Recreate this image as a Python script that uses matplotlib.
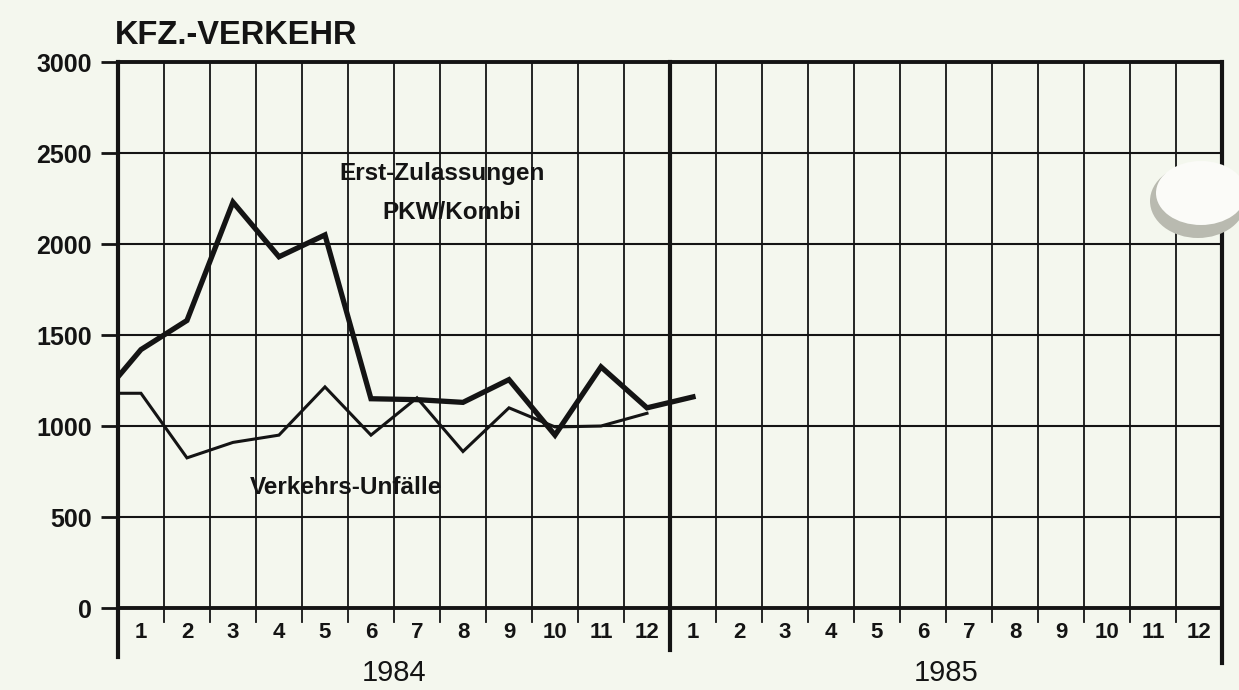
import matplotlib
matplotlib.use('Agg')
import matplotlib.pyplot as plt
from matplotlib.patches import Ellipse

plt.rcParams['font.family'] = ['Liberation Sans', 'DejaVu Sans']

# month positions (column index, 0 = left axis) and values
pkw_x = [0, 0.5, 1.5, 2.5, 3.5, 4.5, 5.5, 6.5, 7.5, 8.5, 9.5, 10.5, 11.5, 12.5]
pkw = [1270, 1420, 1580, 2230, 1930, 2050, 1150, 1145, 1130, 1255, 950, 1325, 1100, 1160]
unf_x = [0, 0.5, 1.5, 2.5, 3.5, 4.5, 5.5, 6.5, 7.5, 8.5, 9.5, 10.5, 11.5]
unf = [1180, 1180, 825, 910, 950, 1215, 950, 1155, 860, 1100, 995, 1000, 1070]

month_labels = [str(m) for m in range(1, 13)] * 2
years = ['1984', '1985']
yticks = [0, 500, 1000, 1500, 2000, 2500, 3000]

bg = '#f4f7ee'
ink = '#141414'
u = 3000 / 546.0  # data units per pixel (vertical)

fig = plt.figure(figsize=(12.39, 6.9), dpi=100, facecolor=bg)
ax = fig.add_axes([0.0952, 0.1188, 0.8911, 0.7913], facecolor=bg)
ax.set_xlim(0, 24)
ax.set_ylim(0, 3000)

# horizontal grid
for y in yticks[1:-1]:
    ax.axhline(y, color=ink, lw=1.5, zorder=1)
# vertical month lines, extending a little below the axis
for i in range(1, 24):
    lw, ext = (3.0, 42) if i == 12 else (1.3, 14)
    ax.plot([i, i], [-ext * u, 3000], color=ink, lw=lw, clip_on=False, zorder=1)
# frame
ax.plot([0, 0], [-49 * u, 3000], color=ink, lw=3.0, clip_on=False, zorder=3)
ax.plot([24, 24], [-55 * u, 3000], color=ink, lw=3.0, clip_on=False, zorder=3)
ax.plot([0, 24], [3000, 3000], color=ink, lw=2.8, clip_on=False, zorder=3)
ax.plot([0, 24], [0, 0], color=ink, lw=2.8, clip_on=False, zorder=3)
for s in ax.spines.values():
    s.set_visible(False)

ax.plot(pkw_x, pkw, color=ink, lw=3.8, solid_joinstyle='miter', zorder=4)
ax.plot(unf_x, unf, color=ink, lw=2.2, solid_joinstyle='miter', zorder=4)

ax.set_yticks(yticks)
ax.set_yticklabels([str(v) for v in yticks], fontsize=18, fontweight='bold', color=ink)
ax.tick_params(axis='y', length=12, width=2, color=ink, pad=7)
ax.set_xticks([i + 0.5 for i in range(24)])
ax.set_xticklabels(month_labels, fontsize=16, fontweight='bold', color=ink)
ax.tick_params(axis='x', length=0, pad=10)

for k, yr in enumerate(years):
    ax.text(6 + 12 * k, -65 * u, yr, ha='center', va='center', fontsize=21, color=ink)

ax.text(7.05, 2385, 'Erst-Zulassungen', ha='center', va='center', fontsize=17.5,
        fontweight='bold', color=ink)
ax.text(7.25, 2175, 'PKW/Kombi', ha='center', va='center', fontsize=17.5,
        fontweight='bold', color=ink)
ax.text(4.95, 660, 'Verkehrs-Unfälle', ha='center', va='center', fontsize=17.5,
        fontweight='bold', color=ink)

fig.text(115 / 1239, 1 - 35 / 690, 'KFZ.-VERKEHR', ha='left', va='center',
         fontsize=23.5, fontweight='bold', color=ink)

# pale round blot near the right edge of the scan
fig.patches.append(Ellipse((1198 / 1239, 1 - 201 / 690), 96 / 1239, 74 / 690,
                           transform=fig.transFigure, facecolor='#b9bab0',
                           edgecolor='none', zorder=10))
fig.patches.append(Ellipse((1201 / 1239, 1 - 193 / 690), 90 / 1239, 64 / 690,
                           transform=fig.transFigure, facecolor='#fbfbf8',
                           edgecolor='none', zorder=11))

fig.savefig('out.png', dpi=100, facecolor=bg)
